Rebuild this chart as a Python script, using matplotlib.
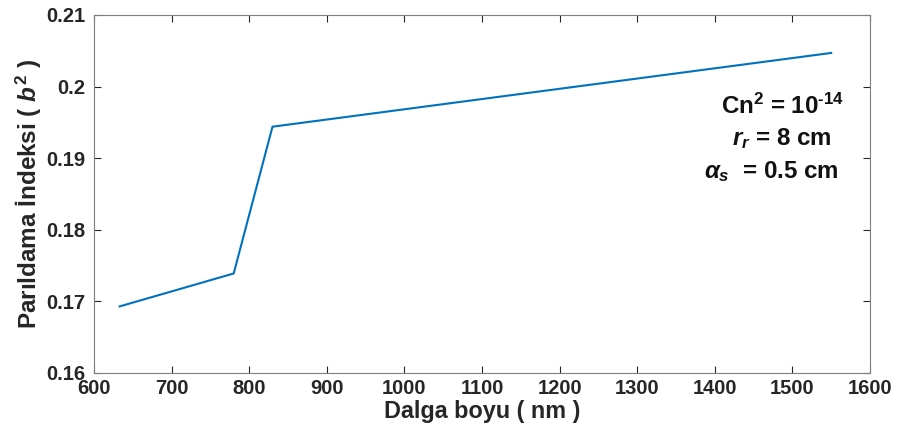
import numpy as np
import matplotlib.pyplot as plt

plt.rcParams['font.family'] = ['Liberation Sans', 'DejaVu Sans']
plt.rcParams['font.weight'] = 'bold'
plt.rcParams['axes.labelweight'] = 'bold'
plt.rcParams['mathtext.fontset'] = 'custom'
plt.rcParams['mathtext.rm'] = 'Liberation Sans:bold'
plt.rcParams['mathtext.it'] = 'Liberation Sans:italic:bold'
plt.rcParams['mathtext.bf'] = 'Liberation Sans:bold'

# data
wavelength = [633, 780, 830, 1550]
scint_index = [0.1693, 0.1739, 0.1944, 0.2047]
xticks = np.arange(600, 1601, 100)
yticks = [0.16, 0.17, 0.18, 0.19, 0.2, 0.21]
ytick_labels = ['0.16', '0.17', '0.18', '0.19', '0.2', '0.21']

fig = plt.figure(figsize=(8.98, 4.36), dpi=100)
ax = fig.add_axes([0.1047, 0.1445, 0.8641, 0.8211])
ax.plot(wavelength, scint_index, color='#0072BD', lw=1.5)

ax.set_xlim(600, 1600)
ax.set_ylim(0.16, 0.21)
ax.set_xticks(xticks)
ax.set_yticks(yticks)
ax.set_yticklabels(ytick_labels)
ax.tick_params(direction='in', top=True, right=True, length=5, width=0.8,
               labelsize=14.5, colors='#262626')
ax.tick_params(axis='y', pad=6)
ax.tick_params(axis='x', pad=4)
for s in ax.spines.values():
    s.set_color('#7f7f7f')
    s.set_linewidth(0.8)

ax.set_xlabel('Dalga boyu ( nm )', fontsize=16.8, color='#262626', labelpad=2)
ax.set_ylabel('Parıldama İndeksi ( $\\mathit{b}^2$ )', fontsize=17.5, color='#262626', labelpad=2)

ax.text(1488, 0.1973, 'Cn$^2$ = 10$^{\\text{-14}}$', ha='center', va='center', fontsize=17.4, color='#111111')
ax.text(1486, 0.1928, '$\\mathit{r}_\\mathit{r}$ = 8 cm', ha='center', va='center', fontsize=17.4, color='#111111')
ax.text(1473, 0.1881, '$\\alpha_\\mathit{s}$  = 0.5 cm', ha='center', va='center', fontsize=17.4, color='#111111')

fig.savefig('out.png', dpi=100)
